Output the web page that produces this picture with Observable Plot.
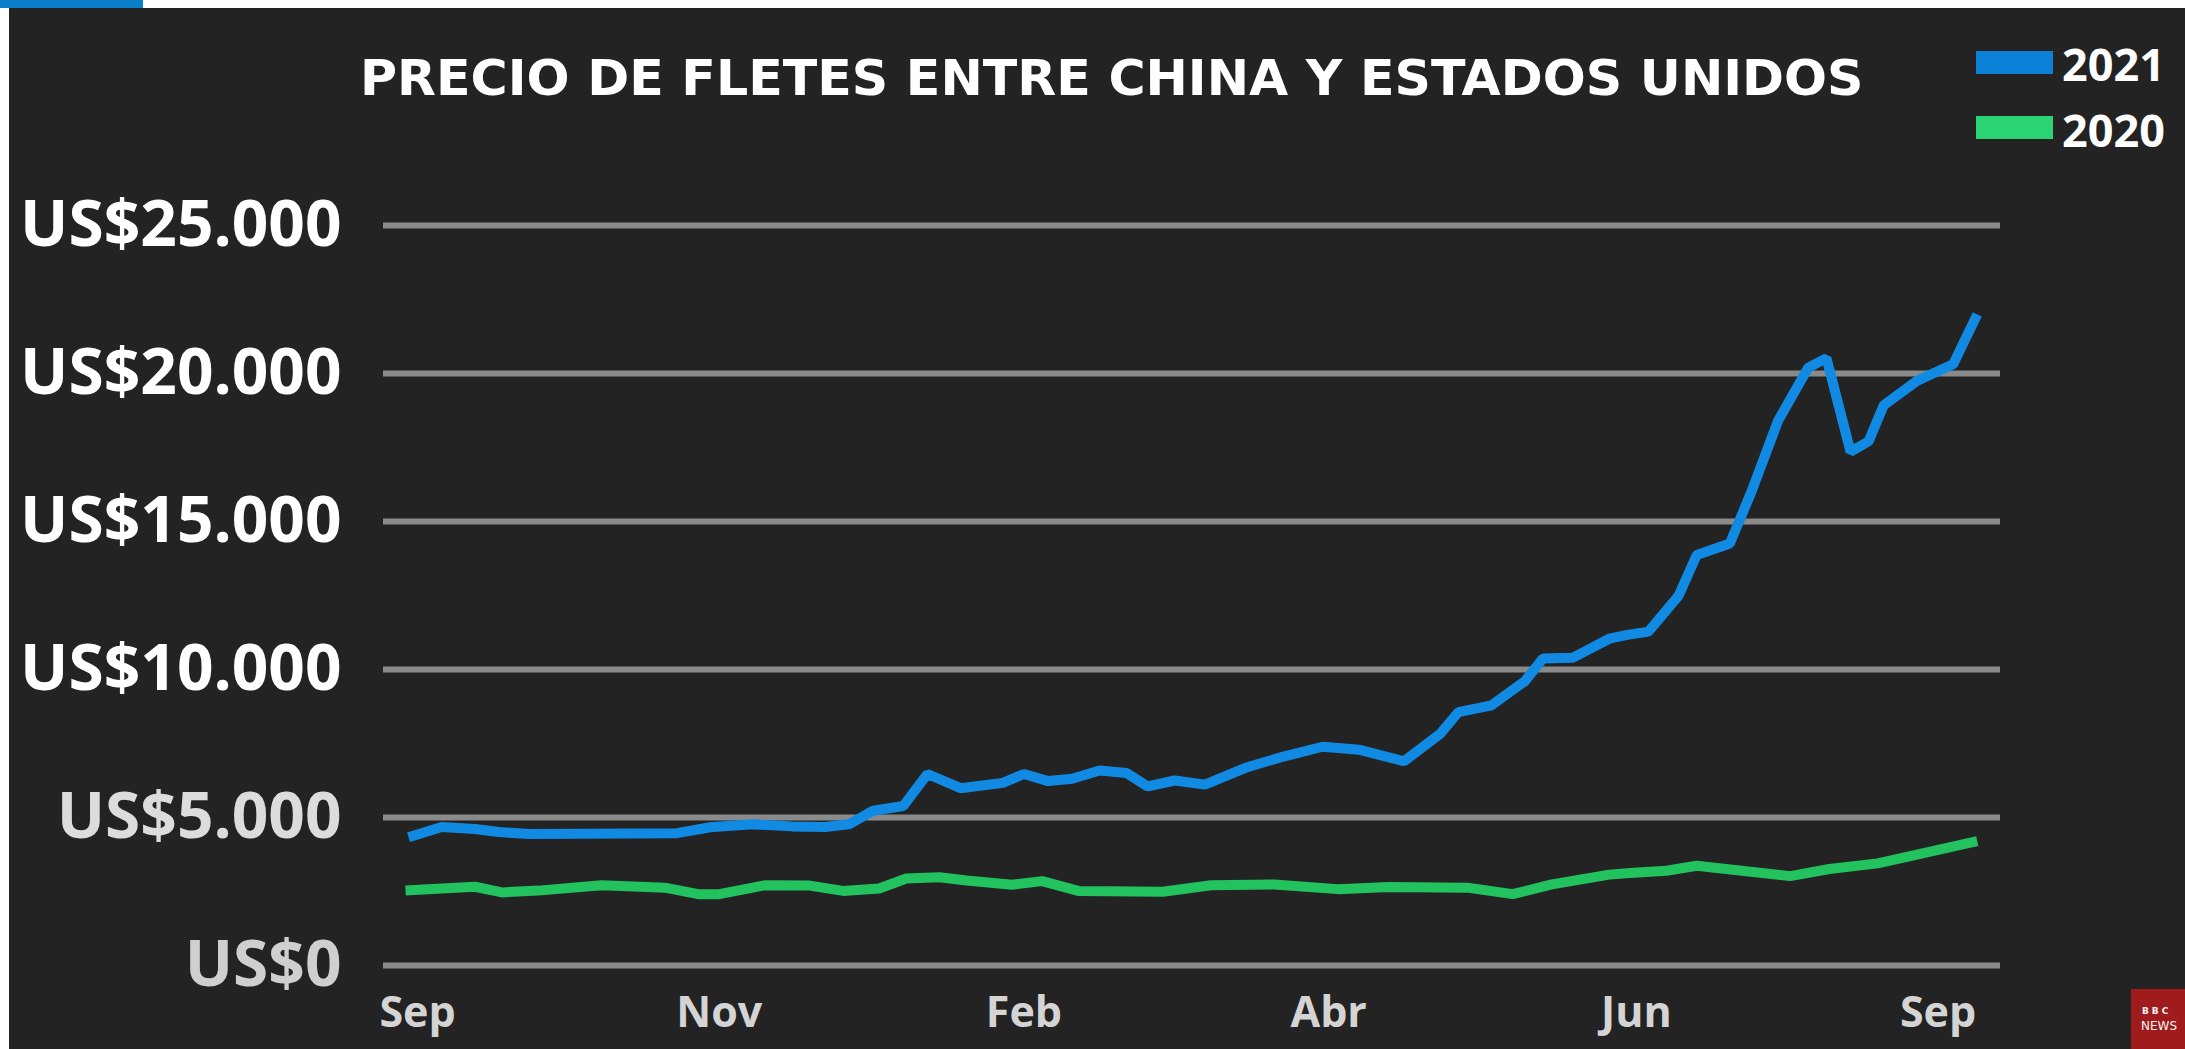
<!DOCTYPE html>
<html>
<head>
<meta charset="utf-8">
<script src="https://cdn.jsdelivr.net/npm/d3@7"></script>
<script src="https://cdn.jsdelivr.net/npm/@observablehq/plot@0.6"></script>
<style>
  html, body { margin: 0; padding: 0; background: #ffffff; width: 2185px; height: 1049px; overflow: hidden; }
  #frame { position: absolute; left: 9px; top: 8px; width: 2176px; height: 1041px; background: #232323; }
  #bluebar { position: absolute; left: 0; top: 0; width: 143px; height: 8px; background: #0a7fc7; }
  #title { position: absolute; left: 360px; top: 53px; font: bold 50.6px "DejaVu Sans", sans-serif; line-height: 1; color: #ffffff; white-space: nowrap; }
  .leg-swatch { position: absolute; left: 1976px; width: 77px; height: 23px; }
  .leg-text { position: absolute; left: 2062px; font: bold 45px "Open Sans", sans-serif; line-height: 1; color: #ffffff; }
  #chart { position: absolute; left: 0; top: 190px; }
  #bbc { position: absolute; left: 2131px; top: 989px; width: 54px; height: 60px; background: #a01b1b; color: #f2f2f2; font: 12px "DejaVu Sans", sans-serif; line-height: 1; }
  #bbc .blk { position: absolute; top: 18px; left: 11px; letter-spacing: 3px; font-weight: bold; font-size: 9px; }
  #bbc .news { position: absolute; top: 31px; left: 10px; font-size: 12px; }
</style>
</head>
<body>
<div id="frame"></div>
<div id="bluebar"></div>
<div id="title"></div>
<div id="legend"></div>
<div id="chart"></div>
<div id="bbc"><span class="blk">BBC</span><span class="news">NEWS</span></div>
<script>
// ---- Data ----
const titleText = "PRECIO DE FLETES ENTRE CHINA Y ESTADOS UNIDOS";
const seriesNames = ["2021", "2020"];
const seriesColors = ["#108ae3", "#22c25f"];
const legendColors = ["#0b82d8", "#2bd472"];

const yTicks = [0, 5000, 10000, 15000, 20000, 25000];
const yTickLabels = ["US$0", "US$5.000", "US$10.000", "US$15.000", "US$20.000", "US$25.000"];

const xTickWeeks = [0.3, 10.3, 20.4, 30.5, 40.7, 50.7];
const xTickLabels = ["Sep", "Nov", "Feb", "Abr", "Jun", "Sep"];

// 2021 series: week index and price (US$)
const weeks2021 = [0, 1.1, 2.2, 3.0, 4.0, 8.9, 10.0, 11.4, 12.7, 13.8, 14.6, 15.4, 16.4, 17.2, 18.3, 19.7, 20.4, 21.2, 22.0, 22.9, 23.8, 24.5, 25.4, 26.4, 27.8, 29.0, 30.3, 31.5, 33.0, 34.2, 34.8, 35.9, 37.0, 37.6, 38.6, 39.8, 40.4, 41.1, 42.1, 42.7, 43.8, 44.5, 45.4, 46.4, 47.0, 47.8, 48.4, 48.9, 50.0, 51.2, 52.0];
const price2021 = [4330, 4680, 4610, 4510, 4440, 4470, 4670, 4770, 4700, 4680, 4770, 5230, 5390, 6470, 5990, 6170, 6470, 6230, 6310, 6590, 6500, 6050, 6250, 6110, 6700, 7060, 7390, 7290, 6900, 7830, 8560, 8790, 9600, 10370, 10400, 11040, 11170, 11280, 12490, 13870, 14260, 15970, 18410, 20200, 20520, 17360, 17710, 18930, 19750, 20310, 22000];

// 2020 series
const weeks2020 = [-0.1, 1.1, 2.2, 3.1, 4.3, 6.4, 8.5, 9.6, 10.3, 11.8, 13.3, 14.4, 15.6, 16.5, 17.6, 18.5, 20.0, 21.0, 22.2, 25.0, 26.6, 28.7, 30.8, 32.5, 35.1, 36.6, 37.9, 39.8, 40.6, 41.7, 42.7, 45.8, 47.1, 48.7, 52.0];
const price2020 = [2530, 2600, 2660, 2470, 2530, 2710, 2630, 2410, 2410, 2710, 2700, 2520, 2600, 2940, 2980, 2870, 2730, 2850, 2520, 2490, 2710, 2740, 2580, 2650, 2630, 2410, 2740, 3070, 3130, 3200, 3370, 3020, 3260, 3450, 4200];

// ---- Build ----
const d2021 = weeks2021.map((w, i) => ({week: w, price: price2021[i]}));
const d2020 = weeks2020.map((w, i) => ({week: w, price: price2020[i]}));

document.getElementById("title").textContent = titleText;

const legend = document.getElementById("legend");
const legTops = [[51, 40.5], [116, 106.5]];
seriesNames.forEach((name, i) => {
  const sw = document.createElement("div");
  sw.className = "leg-swatch";
  sw.style.top = legTops[i][0] + "px";
  sw.style.background = legendColors[i];
  legend.appendChild(sw);
  const tx = document.createElement("div");
  tx.className = "leg-text";
  tx.style.top = legTops[i][1] + "px";
  tx.textContent = name;
  legend.appendChild(tx);
});

const yLabel = d => yTickLabels[yTicks.indexOf(d)];
const xLabel = d => xTickLabels[xTickWeeks.indexOf(d)];
const yAxisCommon = {anchor: "left", tickSize: 0, tickPadding: 42, fontSize: 64, fontWeight: "bold", tickFormat: yLabel, label: null};

const chart = Plot.plot({
  width: 2185,
  height: 859,
  marginTop: 35,
  marginBottom: 84,
  marginLeft: 383,
  marginRight: 185,
  style: {background: "transparent", fontFamily: "'Open Sans', sans-serif", overflow: "visible", color: "#ffffff"},
  x: {domain: [-0.83, 52.77]},
  y: {domain: [0, 25000]},
  marks: [
    Plot.ruleY(yTicks, {stroke: "#8a8a8a", strokeWidth: 6}),
    Plot.line(d2020, {x: "week", y: "price", stroke: seriesColors[1], strokeWidth: 10, strokeLinejoin: "miter", strokeLinecap: "butt"}),
    Plot.line(d2021, {x: "week", y: "price", stroke: seriesColors[0], strokeWidth: 10, strokeLinejoin: "miter", strokeLinecap: "butt"}),
    Plot.axisY(yTicks.filter(t => t >= 10000), {...yAxisCommon, fill: "#ffffff"}),
    Plot.axisY([5000], {...yAxisCommon, fill: "#dcdcdc"}),
    Plot.axisY([0], {...yAxisCommon, fill: "#cfcfcf"}),
    Plot.axisX(xTickWeeks, {anchor: "bottom", tickSize: 0, tickPadding: 31, fontSize: 43, fontWeight: "bold", fill: "#d4d4d4", tickFormat: xLabel, label: null})
  ]
});
document.getElementById("chart").appendChild(chart);
</script>
</body>
</html>
